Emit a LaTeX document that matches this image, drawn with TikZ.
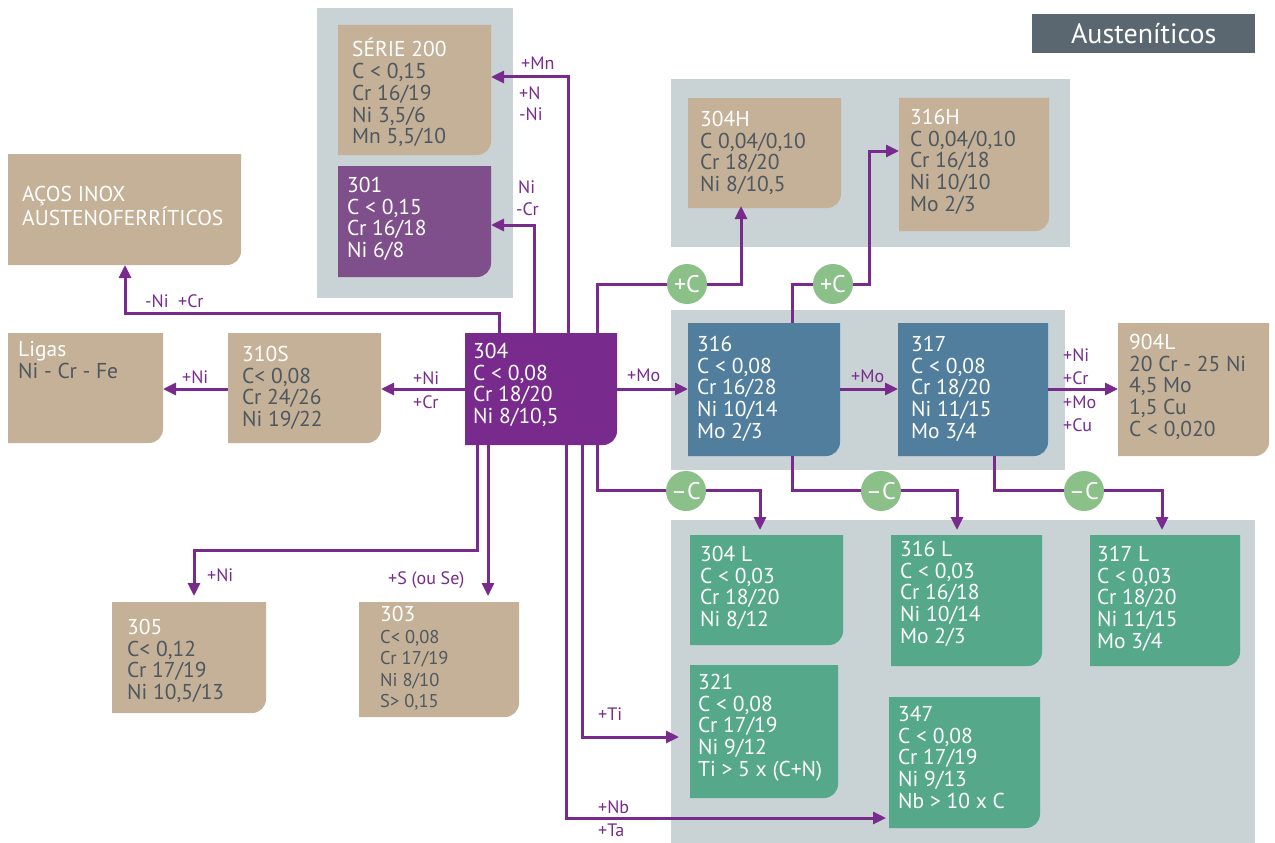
\documentclass[tikz,border=0pt]{standalone}
\usepackage{fontspec}
\setmainfont{PT Sans}
\usetikzlibrary{arrows.meta,calc}
\definecolor{tan}{RGB}{196,177,151}
\definecolor{panel}{RGB}{201,210,212}
\definecolor{purp}{RGB}{121,43,141}
\definecolor{purpb}{RGB}{127,79,139}
\definecolor{steel}{RGB}{80,126,156}
\definecolor{teal}{RGB}{86,168,138}
\definecolor{circ}{RGB}{140,192,137}
\definecolor{darktx}{RGB}{77,88,96}
\definecolor{titlec}{RGB}{91,103,112}
\begin{document}
\begin{tikzpicture}[x=1pt,y=-1pt,
  panelbox/.style={fill=panel, anchor=north west, inner sep=0, outer sep=0},
  rbox/.style={rectangle, anchor=north west, inner sep=0, outer sep=0,
    path picture={\fill[#1] (path picture bounding box.north west) -- (path picture bounding box.north east) [rounded corners=14pt] -- (path picture bounding box.south east) [sharp corners] -- (path picture bounding box.south west) -- cycle;}},
  tx/.style={anchor=north west, inner sep=0, align=left, text=darktx,
    font=\fontsize{21.5}{21.7}\selectfont, execute at begin node=\strut},
  wtx/.style={tx, text=white},
  arr/.style={draw=purp, line width=3pt, -{Triangle[length=13pt,width=12pt]}},
  lbl/.style={anchor=west, inner sep=0, text=purp, font=\fontsize{18}{19}\selectfont},
  cnode/.style={circle, fill=circ, minimum size=40pt, inner sep=0, text=white, font=\fontsize{24}{24}\selectfont}
]
\fill[white] (0,0) rectangle (1275,843);
\useasboundingbox (0,0) rectangle (1275,843);

% panels
\node[panelbox, minimum width=196, minimum height=290] (p1) at (317,8) {};
\node[panelbox, minimum width=399, minimum height=168] (p2) at (671,79) {};
\node[panelbox, minimum width=394, minimum height=160] (p3) at (671,310) {};
\node[panelbox, minimum width=584, minimum height=323] (p4) at (671,520) {};

% title
\node[fill=titlec, anchor=north west, minimum width=223, minimum height=39, inner sep=0, text=white, font=\fontsize{28}{28}\selectfont] (title) at (1032,14) {Austeníticos};

% boxes
\node[rbox=tan, minimum width=153, minimum height=130] (s200) at (338,25) {};
\node[rbox=purpb, minimum width=153, minimum height=111] (b301) at (338,166) {};
\node[rbox=tan, minimum width=233, minimum height=111] (acos) at (8,154) {};
\node[rbox=tan, minimum width=155, minimum height=110] (ligas) at (8,333) {};
\node[rbox=tan, minimum width=153, minimum height=110] (b310s) at (228,333) {};
\node[rbox=purp, minimum width=152, minimum height=112] (b304) at (465,333) {};
\node[rbox=tan, minimum width=153, minimum height=110] (b304h) at (688,98) {};
\node[rbox=tan, minimum width=150, minimum height=133] (b316h) at (899,98) {};
\node[rbox=steel, minimum width=152, minimum height=133] (b316) at (688,323) {};
\node[rbox=steel, minimum width=150, minimum height=133] (b317) at (898,323) {};
\node[rbox=tan, minimum width=151, minimum height=133] (b904) at (1118,323) {};
\node[rbox=teal, minimum width=153, minimum height=110] (b304l) at (690,535) {};
\node[rbox=teal, minimum width=151, minimum height=131] (b316l) at (891,535) {};
\node[rbox=teal, minimum width=150, minimum height=131] (b317l) at (1090,535) {};
\node[rbox=teal, minimum width=148, minimum height=133] (b321) at (690,665) {};
\node[rbox=teal, minimum width=151, minimum height=131] (b347) at (889,697) {};
\node[rbox=tan, minimum width=154, minimum height=111] (b305) at (112,602) {};
\node[rbox=tan, minimum width=160, minimum height=115] (b303) at (359,602) {};

% texts
\node[tx] (s200t) at (352,38) {\textcolor{white}{SÉRIE 200}\\C < 0,15\\Cr 16/19\\Ni 3,5/6\\Mn 5,5/10};
\node[wtx] (b301t) at (347,177) {301\\C < 0,15\\Cr 16/18\\Ni 6/8};
\node[wtx] (acost) at (22,186) {AÇOS INOX\\AUSTENOFERRÍTICOS};
\node[tx] (ligast) at (18,341) {\textcolor{white}{Ligas}\\Ni - Cr - Fe};
\node[tx] (b310st) at (242,346) {\textcolor{white}{310S}\\C< 0,08\\Cr 24/26\\Ni 19/22};
\node[wtx] (b304t) at (473,343) {304\\C < 0,08\\Cr 18/20\\Ni 8/10,5};
\node[tx] (b304ht) at (700,111) {\textcolor{white}{304H}\\C 0,04/0,10\\Cr 18/20\\Ni 8/10,5};
\node[tx] (b316ht) at (910,109) {\textcolor{white}{316H}\\C 0,04/0,10\\Cr 16/18\\Ni 10/10\\Mo 2/3};
\node[wtx] (b316t) at (697,336) {316\\C < 0,08\\Cr 16/28\\Ni 10/14\\Mo 2/3};
\node[wtx] (b317t) at (911,336) {317\\C < 0,08\\Cr 18/20\\Ni 11/15\\Mo 3/4};
\node[tx] (b904t) at (1129,334) {\textcolor{white}{904L}\\20 Cr - 25 Ni\\4,5 Mo\\1,5 Cu\\C < 0,020};
\node[wtx] (b304lt) at (700,546) {304 L\\C < 0,03\\Cr 18/20\\Ni 8/12};
\node[wtx] (b316lt) at (900,541) {316 L\\C < 0,03\\Cr 16/18\\Ni 10/14\\Mo 2/3};
\node[wtx] (b317lt) at (1097,546) {317 L\\C < 0,03\\Cr 18/20\\Ni 11/15\\Mo 3/4};
\node[wtx] (b321t) at (698,674) {321\\C < 0,08\\Cr 17/19\\Ni 9/12\\Ti > 5 x (C+N)};
\node[wtx] (b347t) at (898,706) {347\\C < 0,08\\Cr 17/19\\Ni 9/13\\Nb > 10 x C};
\node[tx] (b305t) at (127,619) {\textcolor{white}{305}\\C< 0,12\\Cr 17/19\\Ni 10,5/13};
\node[tx, font=\fontsize{18.5}{21.6}\selectfont] (b303t) at (380,606) {\textcolor{white}{\fontsize{21.5}{21.6}\selectfont 303}\\C< 0,08\\Cr 17/19\\Ni 8/10\\S> 0,15};

% connectors
\draw[arr] (b304.north -| 568,0) |- (s200.east |- 0,77);
\draw[arr] (b304.north -| 534,0) |- (b301.east |- 0,225);
\draw[arr] (b304.north -| 499,0) -- (499,313) -| (acos.south -| 125,0);
\draw[arr] (b304.west |- 0,389) -- (b310s.east |- 0,389);
\draw[arr] (b310s.west |- 0,389) -- (ligas.east |- 0,389);
\draw[arr] (b304.east |- 0,389) -- (b316.west |- 0,389);
\draw[arr] (b316.east |- 0,389) -- (b317.west |- 0,389);
\draw[arr] (b317.east |- 0,389) -- (b904.west |- 0,389);
\draw[arr, shorten >=-2pt] (b304.north -| 597,0) |- (741,284) -- (b304h.south -| 741,0);
\draw[arr] (b316.north -| 792,0) |- (869,284) |- (b316h.west |- 0,151);
\draw[arr, shorten >=5pt] (b304.south -| 597,0) |- (760,490) -- (b304l.north -| 760,0);
\draw[arr, shorten >=5pt] (b316.south -| 792,0) |- (957,490) -- (b316l.north -| 957,0);
\draw[arr, shorten >=5pt] (b317.south -| 994,0) |- (1162,490) -- (b317l.north -| 1162,0);
\draw[arr, shorten >=6pt] (b304.south -| 477,0) |- (194,550) -- (b305.north -| 194,0);
\draw[arr, shorten >=6pt] (b304.south -| 488,0) -- (b303.north -| 488,0);
\draw[arr, shorten >=11pt] (b304.south -| 582,0) |- (b321.west |- 0,737);
\draw[arr, shorten >=3pt] (b304.south -| 566,0) |- (b347.west |- 0,818);

% circles
\node[cnode] (pc1) at (687,284) {+C};
\node[cnode] (pc2) at (833,284) {+C};
\node[cnode] (mc1) at (686,491) {–C};
\node[cnode] (mc2) at (881,491) {–C};
\node[cnode] (mc3) at (1084,491) {–C};

% labels
\node[lbl] (lmn) at (521,63) {+Mn};
\node[lbl] (ln) at (519,93) {+N};
\node[lbl] (lni) at (519,114) {-Ni};
\node[lbl] (lni2) at (518,187) {Ni};
\node[lbl] (lcr) at (516,209) {-Cr};
\node[lbl] (lnicr) at (145,301) {-Ni\ \ +Cr};
\node[lbl] (lniL) at (182,377) {+Ni};
\node[lbl] (lni3) at (413,378) {+Ni};
\node[lbl] (lcr3) at (413,402) {+Cr};
\node[lbl] (lmo) at (627,375) {+Mo};
\node[lbl] (lmo2) at (851,376) {+Mo};
\node[lbl] (la1) at (1063,355) {+Ni};
\node[lbl] (la2) at (1063,378) {+Cr};
\node[lbl] (la3) at (1063,402) {+Mo};
\node[lbl] (la4) at (1063,425) {+Cu};
\node[lbl] (lni5) at (207,575) {+Ni};
\node[lbl] (ls) at (388,580) {+S (ou Se)};
\node[lbl] (lti) at (598,714) {+Ti};
\node[lbl] (lnb) at (598,807) {+Nb};
\node[lbl] (lta) at (598,830) {+Ta};
\end{tikzpicture}
\end{document}
